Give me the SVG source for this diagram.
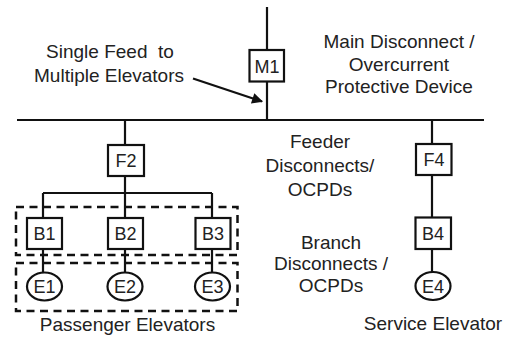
<svg xmlns="http://www.w3.org/2000/svg" width="511" height="337" viewBox="0 0 511 337">
<defs>
<style>
.t{font-family:"Liberation Sans",Arial,sans-serif;font-size:19px;fill:#222;text-anchor:middle}
.n{font-family:"Liberation Sans",Arial,sans-serif;font-size:18px;fill:#222;text-anchor:middle}
.box{fill:#fff;stroke:#111;stroke-width:2.2}
.ln{stroke:#111;stroke-width:2.2;fill:none}
.dash{fill:none;stroke:#111;stroke-width:2.5;stroke-dasharray:8 5.5}
</style>
<marker id="ah" viewBox="0 0 10 10" refX="9" refY="5" markerWidth="5.5" markerHeight="5" orient="auto" markerUnits="strokeWidth">
<path d="M0,0 L10,5 L0,10 z" fill="#111"/>
</marker>
</defs>
<rect width="511" height="337" fill="#fff"/>
<g id="connectors">
<line class="ln" x1="267" y1="7" x2="267" y2="120"/>
<line class="ln" x1="17" y1="120" x2="484" y2="120" stroke-width="2.5"/>
<line class="ln" x1="125" y1="120" x2="125" y2="193"/>
<line class="ln" x1="43" y1="193" x2="212" y2="193"/>
<line class="ln" x1="43" y1="193" x2="43" y2="273"/>
<line class="ln" x1="125" y1="193" x2="125" y2="273"/>
<line class="ln" x1="212" y1="193" x2="212" y2="273"/>
<line class="ln" x1="432" y1="120" x2="432" y2="272"/>
<line class="ln" x1="193" y1="78.5" x2="262" y2="101.5" marker-end="url(#ah)"/>
</g>
<g id="groups">
<rect class="dash" x="16" y="207" width="221.5" height="48"/>
<rect class="dash" x="16" y="263" width="221.5" height="48"/>
</g>
<g id="M1"><rect class="box" x="249.5" y="50" width="34.5" height="31.5"/><text class="n" x="267" y="72.5">M1</text></g>
<g id="F2"><rect class="box" x="108" y="145" width="36" height="31"/><text class="n" x="126" y="167">F2</text></g>
<g id="F4"><rect class="box" x="416" y="144" width="35.5" height="31"/><text class="n" x="434" y="166">F4</text></g>
<g id="B1"><rect class="box" x="27" y="218" width="35" height="31"/><text class="n" x="44.5" y="240">B1</text></g>
<g id="B2"><rect class="box" x="108" y="218" width="35" height="31"/><text class="n" x="125.5" y="240">B2</text></g>
<g id="B3"><rect class="box" x="195.5" y="218" width="35" height="31"/><text class="n" x="213" y="240">B3</text></g>
<g id="B4"><rect class="box" x="415.5" y="217.5" width="35.5" height="31.5"/><text class="n" x="433" y="240">B4</text></g>
<g id="E1"><ellipse class="box" cx="44.5" cy="286.5" rx="17.5" ry="14"/><text class="n" x="44.5" y="293">E1</text></g>
<g id="E2"><ellipse class="box" cx="125" cy="286.5" rx="17.5" ry="14"/><text class="n" x="125" y="293">E2</text></g>
<g id="E3"><ellipse class="box" cx="212.5" cy="286.5" rx="17.5" ry="14"/><text class="n" x="212.5" y="293">E3</text></g>
<g id="E4"><ellipse class="box" cx="433" cy="286" rx="17.5" ry="14"/><text class="n" x="433" y="292.5">E4</text></g>
<g id="labels">
<text class="t" x="110" y="58" xml:space="preserve">Single Feed  to</text>
<text class="t" x="109" y="82">Multiple Elevators</text>
<text class="t" x="399" y="48">Main Disconnect /</text>
<text class="t" x="399" y="71">Overcurrent</text>
<text class="t" x="399" y="93">Protective Device</text>
<text class="t" x="320" y="148">Feeder</text>
<text class="t" x="320" y="172">Disconnects/</text>
<text class="t" x="320" y="196">OCPDs</text>
<text class="t" x="331" y="249">Branch</text>
<text class="t" x="331" y="270">Disconnects /</text>
<text class="t" x="331" y="292">OCPDs</text>
<text class="t" x="127.5" y="331">Passenger Elevators</text>
<text class="t" x="433" y="330">Service Elevator</text>
</g>
</svg>
